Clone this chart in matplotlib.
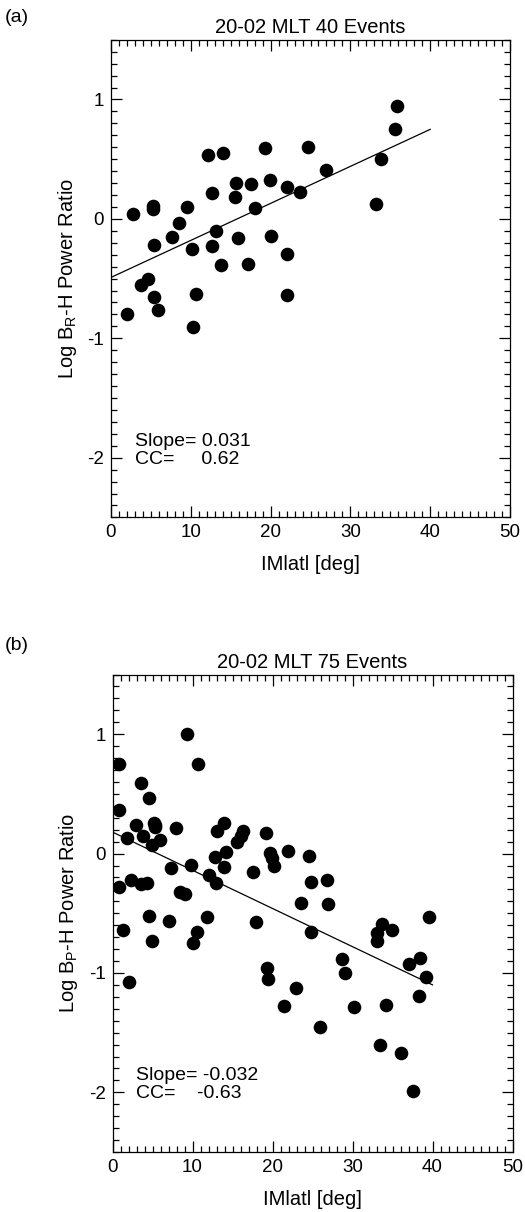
import matplotlib
matplotlib.use("Agg")
import matplotlib.pyplot as plt
from matplotlib.ticker import MultipleLocator
import numpy as np

plt.rcParams['font.family'] = ['Liberation Sans', 'DejaVu Sans']
plt.rcParams['axes.unicode_minus'] = False

# panel (a): 20-02 MLT, B_R
mlat_a = [12.2, 14.0, 19.3, 24.7, 15.7, 17.5, 19.9, 22.1, 23.7, 12.66,
          15.5, 18.05, 9.48, 5.3, 5.3, 2.7, 8.5, 13.1, 7.7, 15.95,
          20.0, 5.4, 12.66, 10.1, 22.1, 13.75, 17.2, 4.64, 3.8, 10.65,
          22.1, 5.39, 5.9, 2.05, 10.3, 35.9, 35.6, 27.0, 33.8, 33.2]
ratio_a = [0.535, 0.55, 0.59, 0.605, 0.30, 0.29, 0.325, 0.267, 0.225, 0.22,
           0.18, 0.09, 0.10, 0.105, 0.08, 0.04, -0.037, -0.10, -0.15, -0.16,
           -0.143, -0.22, -0.224, -0.25, -0.294, -0.39, -0.38, -0.50, -0.55, -0.63,
           -0.635, -0.654, -0.763, -0.797, -0.908, 0.948, 0.753, 0.41, 0.50, 0.127]
slope_a, icept_a = 0.031, -0.49

# panel (b): 20-02 MLT, B_P
mlat_b = [9.35, 0.83, 10.66, 3.6, 4.54, 0.79, 2.9, 5.2, 5.3, 7.9,
          13.9, 13.0, 16.3, 16.0, 15.6, 19.2, 1.75, 3.8, 5.9, 4.9,
          14.2, 12.8, 19.7, 19.95, 20.2, 7.25, 9.75, 13.9, 17.5, 12.0,
          12.9, 2.29, 3.5, 4.3, 0.79, 8.4, 9.04, 4.54, 7.08, 11.8,
          17.9, 1.25, 10.6, 4.95, 10.0, 2.0, 19.25, 19.4, 21.9, 24.6,
          24.8, 26.8, 23.5, 26.9, 39.6, 33.7, 34.95, 33.0, 33.0, 24.8,
          28.7, 29.0, 37.0, 38.4, 39.2, 22.9, 21.45, 30.2, 34.2, 38.3,
          25.9, 33.4, 36.0, 37.6, 5.25]
ratio_b = [1.0, 0.75, 0.748, 0.594, 0.468, 0.367, 0.239, 0.26, 0.22, 0.214,
           0.26, 0.19, 0.19, 0.147, 0.10, 0.17, 0.13, 0.15, 0.113, 0.069,
           0.01, -0.03, 0.007, -0.04, -0.105, -0.12, -0.096, -0.11, -0.155, -0.178,
           -0.25, -0.22, -0.256, -0.25, -0.283, -0.32, -0.337, -0.52, -0.566, -0.53,
           -0.57, -0.64, -0.655, -0.733, -0.753, -1.08, -0.962, -1.05, 0.023, -0.018,
           -0.236, -0.222, -0.41, -0.42, -0.535, -0.594, -0.64, -0.664, -0.733, -0.658,
           -0.88, -1.0, -0.926, -0.873, -1.03, -1.125, -1.276, -1.284, -1.27, -1.194,
           -1.454, -1.60, -1.67, -1.99, 0.24]
slope_b, icept_b = -0.032, 0.18

fig = plt.figure(figsize=(5.25, 12.12), dpi=100)

def panel(rect, xs, ys, slope, icept, title, ylab, stxt, cctxt, tag, tag_y):
    ax = fig.add_axes(rect)
    ax.plot(xs, ys, 'o', color='black', markersize=9.8, markeredgewidth=0)
    xl = np.array([0, 40])
    ax.plot(xl, icept + slope * xl, color='black', lw=0.9)
    ax.set_xlim(0, 50)
    ax.set_ylim(-2.5, 1.5)
    ax.xaxis.set_major_locator(MultipleLocator(10))
    ax.xaxis.set_minor_locator(MultipleLocator(1))
    ax.yaxis.set_major_locator(MultipleLocator(1))
    ax.yaxis.set_minor_locator(MultipleLocator(0.1))
    ax.tick_params(which='both', direction='in', top=True, right=True,
                   labelsize=13.5, width=0.9)
    ax.tick_params(which='major', length=8, pad=5)
    ax.tick_params(which='minor', length=4)
    for s in ax.spines.values():
        s.set_linewidth(0.9)
    ax.set_title(title, fontsize=14.5, pad=5)
    ax.set_xlabel('IMlatl [deg]', fontsize=14.5, labelpad=10)
    ax.set_ylabel(ylab, fontsize=14.5, labelpad=6)
    ax.text(3.0, -1.90, stxt, fontsize=14)
    ax.text(3.0, -2.05, cctxt, fontsize=14)
    fig.text(0.01, tag_y, tag, fontsize=14, va='center')
    return ax

panel([111/525, 1 - 517.4/1212, 399/525, 477.6/1212], mlat_a, ratio_a,
      slope_a, icept_a, '20-02 MLT 40 Events', 'Log B$_\\mathregular{R}$-H Power Ratio',
      'Slope= 0.031', 'CC=     0.62', '(a)', 1 - 18/1212)
panel([112.5/525, 1 - 1152/1212, 400/525, 477.5/1212], mlat_b, ratio_b,
      slope_b, icept_b, '20-02 MLT 75 Events', 'Log B$_\\mathregular{P}$-H Power Ratio',
      'Slope= -0.032', 'CC=    -0.63', '(b)', 1 - 646/1212)

fig.savefig('out.png', dpi=100)
